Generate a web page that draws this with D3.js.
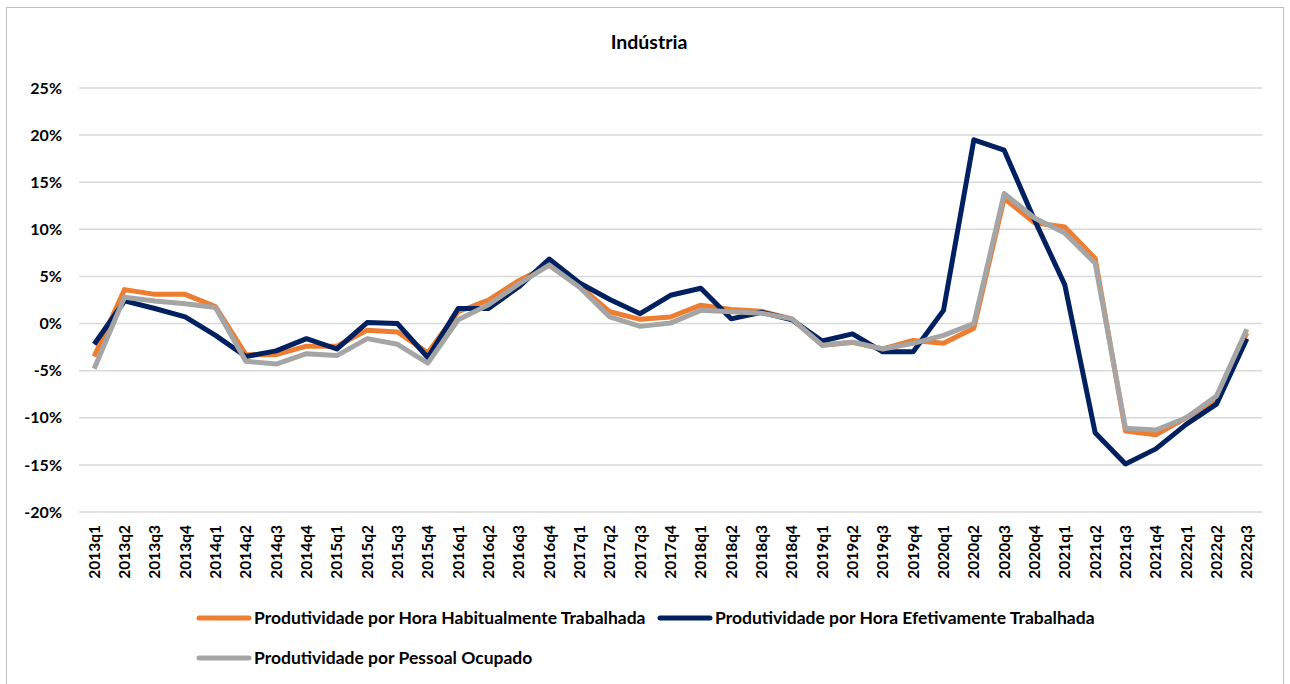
<!DOCTYPE html>
<html>
<head>
<meta charset="utf-8">
<script src="https://cdn.jsdelivr.net/npm/d3@7"></script>
<style>
  html, body { margin: 0; padding: 0; background: #fff; }
  svg { display: block; }
  text { font-family: Lato, "Open Sans", "Liberation Sans", sans-serif; }
</style>
</head>
<body>
<svg id="chart" width="1290" height="684"></svg>
<script>
const categories = ["2013q1","2013q2","2013q3","2013q4","2014q1","2014q2","2014q3","2014q4",
  "2015q1","2015q2","2015q3","2015q4","2016q1","2016q2","2016q3","2016q4",
  "2017q1","2017q2","2017q3","2017q4","2018q1","2018q2","2018q3","2018q4",
  "2019q1","2019q2","2019q3","2019q4","2020q1","2020q2","2020q3","2020q4",
  "2021q1","2021q2","2021q3","2021q4","2022q1","2022q2","2022q3"];

const habitual = [-3.5, 3.6, 3.1, 3.1, 1.8, -3.3, -3.3, -2.4,
  -2.4, -0.7, -0.9, -3.1, 1.25, 2.5, 4.55, 6.2,
  4.0, 1.25, 0.45, 0.7, 1.95, 1.5, 1.3, 0.5,
  -2.3, -2.0, -2.7, -1.8, -2.1, -0.5, 13.3, 10.7,
  10.25, 6.9, -11.4, -11.8, -10.0, -8.0, -1.0];

const efetiva = [-2.2, 2.4, 1.6, 0.7, -1.25, -3.5, -2.9, -1.6,
  -2.7, 0.1, 0.0, -3.6, 1.6, 1.6, 3.9, 6.85,
  4.3, 2.55, 1.05, 3.0, 3.75, 0.5, 1.2, 0.4,
  -1.85, -1.1, -3.0, -3.0, 1.4, 19.5, 18.4, 11.0,
  4.1, -11.6, -14.9, -13.3, -10.7, -8.55, -1.6];

const pessoal = [-4.8, 2.8, 2.4, 2.1, 1.7, -4.0, -4.3, -3.2,
  -3.4, -1.6, -2.2, -4.2, 0.4, 2.0, 4.2, 6.2,
  3.85, 0.7, -0.3, 0.05, 1.4, 1.25, 1.1, 0.5,
  -2.3, -1.95, -2.7, -2.1, -1.25, 0.0, 13.8, 11.2,
  9.6, 6.4, -11.1, -11.3, -10.0, -7.7, -0.6];

const yTicks = [-20, -15, -10, -5, 0, 5, 10, 15, 20, 25];

const seriesNames = ["Produtividade por Hora Habitualmente Trabalhada",
  "Produtividade por Hora Efetivamente Trabalhada",
  "Produtividade por Pessoal Ocupado"];
const seriesColors = ["#ED7D31", "#002060", "#A5A5A5"];
const seriesData = [habitual, efetiva, pessoal];

const svg = d3.select("#chart");

// outer border
svg.append("rect").attr("x", 6.5).attr("y", 7.5).attr("width", 1277).attr("height", 690)
  .attr("fill", "none").attr("stroke", "#bfbfbf").attr("stroke-width", 1);

const plotLeft = 79, plotRight = 1262, plotTop = 88, plotBottom = 512;

const x = d3.scaleBand().domain(categories).range([plotLeft, plotRight]).paddingInner(0).paddingOuter(0);
const y = d3.scaleLinear().domain([-20, 25]).range([plotBottom, plotTop]);

// title
svg.append("text").attr("x", 649).attr("y", 49).attr("text-anchor", "middle")
  .attr("font-size", 19.5).attr("font-weight", "bold").attr("fill", "#000").text("Indústria");

// gridlines
svg.append("g").selectAll("line").data(yTicks).join("line")
  .attr("x1", plotLeft).attr("x2", plotRight)
  .attr("y1", d => y(d)).attr("y2", d => y(d))
  .attr("stroke", "#d9d9d9").attr("stroke-width", 1.5);

// y axis labels
const yAxis = d3.axisLeft(y).tickValues(yTicks).tickSize(0).tickPadding(0)
  .tickFormat(d => d + "%");
const yg = svg.append("g").attr("transform", `translate(62,0)`).call(yAxis);
yg.select(".domain").remove();
yg.selectAll("text").attr("font-size", 16).attr("font-weight", "bold").attr("fill", "#000")
  .attr("font-family", "Lato, 'Open Sans', sans-serif");

// x axis labels
const xAxis = d3.axisBottom(x).tickSize(0).tickPadding(0);
const xg = svg.append("g").attr("transform", `translate(0,${plotBottom})`).call(xAxis);
xg.select(".domain").remove();
xg.selectAll("text")
  .attr("transform", "rotate(-90)")
  .attr("text-anchor", "end")
  .attr("x", -13).attr("y", 0).attr("dy", "0.35em")
  .attr("font-size", 15.5).attr("font-weight", "bold").attr("fill", "#000")
  .attr("font-family", "Lato, 'Open Sans', sans-serif");

// lines
const line = d3.line().x((d, i) => x(categories[i]) + x.bandwidth() / 2).y(d => y(d));
seriesData.forEach((s, k) => {
  svg.append("path").datum(s).attr("d", line)
    .attr("fill", "none").attr("stroke", seriesColors[k]).attr("stroke-width", 5)
    .attr("stroke-linejoin", "round").attr("stroke-linecap", "butt");
});

// legend
const legendItems = [
  {i: 0, x: 197, y: 618},
  {i: 1, x: 658, y: 618},
  {i: 2, x: 197, y: 658}
];
const lg = svg.append("g");
legendItems.forEach(it => {
  lg.append("line").attr("x1", it.x + 2).attr("x2", it.x + 52).attr("y1", it.y).attr("y2", it.y)
    .attr("stroke", seriesColors[it.i]).attr("stroke-width", 5).attr("stroke-linecap", "round");
  lg.append("text").attr("x", it.x + 57).attr("y", it.y).attr("dy", "0.35em")
    .attr("font-size", 17.5).attr("font-weight", "bold").attr("fill", "#000").text(seriesNames[it.i]);
});
</script>
</body>
</html>
